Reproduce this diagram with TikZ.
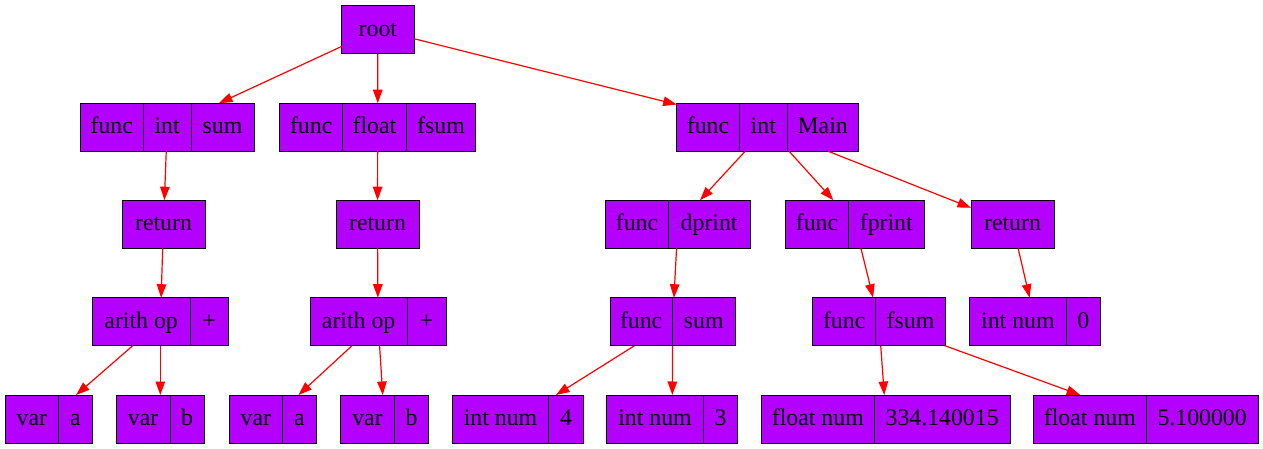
\documentclass[tikz,border=0pt]{standalone}
\usepackage{fontspec}
\setmainfont{Liberation Serif}
\usetikzlibrary{arrows.meta}
\definecolor{recfill}{RGB}{179,0,255}
\definecolor{edgered}{RGB}{255,0,0}
\tikzset{
  cell/.style={draw=black, line width=0.9pt, fill=recfill, minimum height=48pt, inner sep=0pt, outer sep=0pt,
    font=\fontsize{23.8}{28}\selectfont, text height=17pt, text depth=4pt},
  outer/.style={draw=none, minimum height=48pt, inner sep=0pt, outer sep=0pt},
  edge/.style={draw=edgered, line width=1.2pt, -{Triangle[length=13.5pt,width=9.5pt]}}
}
\newcommand{\rec}[5]{%
  \node[outer, minimum width={(#4-#3)*1pt}] (#1) at ({(#3+#4)/2},#2) {};
  \foreach \a/\b/\t [count=\i] in {#5} {\node[cell, minimum width={(\b-\a)*1pt}] (#1-\i) at ({(\a+\b)/2},#2) {\t};}%
}
\begin{document}
\begin{tikzpicture}[x=1pt,y=-1pt]
\useasboundingbox (0,0) rectangle (1263,449);
% row 1
\rec{root}{29.7}{341.7}{414}{341.7/414/root}
% row 2
\rec{f1}{127.2}{80.3}{254}{80.3/143.3/func, 143.3/191/int, 191/254/sum}
\rec{f2}{127.2}{279.7}{475.7}{279.7/342.7/func, 342.7/406.3/float, 406.3/475.7/fsum}
\rec{f3}{127.2}{676.7}{858}{676.7/739.3/func, 739.3/787.3/int, 787.3/858/Main}
% row 3
\rec{r1}{224.2}{122}{205}{122/205/return}
\rec{r2}{224.2}{336}{419}{336/419/return}
\rec{dp}{224.2}{605.7}{750}{605.7/668.3/func, 668.3/750/dprint}
\rec{fp}{224.2}{785.7}{924.3}{785.7/848.3/func, 848.3/924.3/fprint}
\rec{r3}{224.2}{971}{1054}{971/1054/return}
% row 4
\rec{a1}{321.7}{92.3}{228.3}{92.3/190/arith op, 190/228.3/+}
\rec{a2}{321.7}{310}{446}{310/407.3/arith op, 407.3/446/+}
\rec{fs}{321.7}{610}{735.3}{610/672.3/func, 672.3/735.3/sum}
\rec{ff}{321.7}{812.7}{945.3}{812.7/875.7/func, 875.7/945.3/fsum}
\rec{i0}{321.7}{969.7}{1100.7}{969.7/1066/int num, 1066/1100.7/0}
% row 5
\rec{va1}{419}{5}{92}{5/58.7/var, 58.7/92/a}
\rec{vb1}{419}{116.3}{204.3}{116.3/170/var, 170/204.3/b}
\rec{va2}{419}{229}{316}{229/282.7/var, 282.7/316/a}
\rec{vb2}{419}{340.3}{428.3}{340.3/394.7/var, 394.7/428.3/b}
\rec{i4}{419}{452.3}{583.3}{452.3/548.7/int num, 548.7/583.3/4}
\rec{i3}{419}{606.7}{737.7}{606.7/703.3/int num, 703.3/737.7/3}
\rec{fl1}{419}{761.7}{1010.3}{761.7/874/float num, 874/1010.3/334.140015}
\rec{fl2}{419}{1033.7}{1258.3}{1033.7/1146/float num, 1146/1258.3/5.100000}
% edges
\draw[edge] (root) -- (f1);
\draw[edge] (root) -- (f2);
\draw[edge] (root) -- (f3);
\draw[edge] (f1) -- (r1);
\draw[edge] (r1) -- (a1);
\draw[edge] (a1) -- (va1);
\draw[edge] (a1) -- (vb1);
\draw[edge] (f2) -- (r2);
\draw[edge] (r2) -- (a2);
\draw[edge] (a2) -- (va2);
\draw[edge] (a2) -- (vb2);
\draw[edge] (f3) -- (dp);
\draw[edge] (f3) -- (fp);
\draw[edge] (f3) -- (r3);
\draw[edge] (dp) -- (fs);
\draw[edge] (fs) -- (i4);
\draw[edge] (fs) -- (i3);
\draw[edge] (fp) -- (ff);
\draw[edge] (ff) -- (fl1);
\draw[edge] (ff) -- (fl2);
\draw[edge] (r3) -- (i0);
\end{tikzpicture}
\end{document}
